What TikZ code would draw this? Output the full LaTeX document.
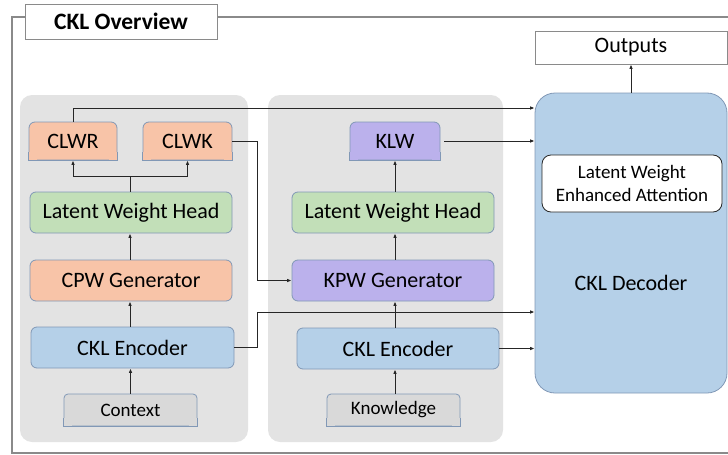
\documentclass[tikz,border=0pt]{standalone}
\usepackage{fontspec}
\setmainfont{Carlito}
\usetikzlibrary{arrows.meta}

\definecolor{panelgray}{HTML}{E3E3E3}
\definecolor{salmon}{HTML}{F8C4A8}
\definecolor{mint}{HTML}{C2DFB8}
\definecolor{lilac}{HTML}{BBB1EC}
\definecolor{skyblue}{HTML}{B5D0E8}
\definecolor{inputgray}{HTML}{D9D9D9}
\definecolor{edgeblue}{HTML}{8198B6}
\definecolor{framegray}{HTML}{8A8A8A}
\definecolor{linedark}{HTML}{262626}

\tikzset{
  blk/.style={draw=edgeblue, line width=0.8pt, rounded corners=6pt,
    inner sep=0pt, align=center, font=\fontsize{22}{24}\selectfont},
  inbox/.style={blk, fill=inputgray, rounded corners=4pt, font=\fontsize{19}{21}\selectfont},
  panel/.style={fill=panelgray, rounded corners=12pt, inner sep=0pt},
  plainbox/.style={draw=framegray, line width=0.8pt, fill=white, inner sep=0pt},
  arr/.style={draw=linedark, line width=1pt, -{Latex[length=4.5pt,width=3.6pt]}},
  wire/.style={draw=linedark, line width=1pt},
}

% squares off the two lower corners of a block (rounded on top only)
\newcommand{\sqbottom}[2]{%
  \fill[#2] (#1.south west) rectangle ++(8,-8);
  \fill[#2] (#1.south east) rectangle ++(-8,-8);
  \draw[edgeblue, line width=0.8pt] ([yshift=8pt]#1.south west) -- (#1.south west)
    -- (#1.south east) -- ([yshift=8pt]#1.south east);}

\begin{document}
\begin{tikzpicture}[x=1pt,y=-1pt]
\useasboundingbox (0,0) rectangle (728,455);

% outer frame and title
\draw[framegray, line width=1.1pt] (12,17) rectangle (745,453);
\node[plainbox, minimum width=192pt, minimum height=35pt,
      font=\bfseries\fontsize{23.5}{25}\selectfont] (title) at (121,21.5) {CKL Overview};

% grey panels
\node[panel, minimum width=228pt, minimum height=347pt] (panelL) at (134,268.5) {};
\node[panel, minimum width=235pt, minimum height=347pt] (panelM) at (385.5,268.5) {};

% context branch
\node[blk, fill=salmon, minimum width=88pt, minimum height=38pt] (clwr) at (73,141) {CLWR};
\node[blk, fill=salmon, minimum width=89pt, minimum height=38pt] (clwk) at (187.5,141) {CLWK};
\node[blk, fill=mint, minimum width=202pt, minimum height=41pt] (lwhL) at (131,212.5) {Latent Weight Head};
\node[blk, fill=salmon, minimum width=202pt, minimum height=41pt] (cpw) at (131,280.5) {CPW Generator};
\node[blk, fill=skyblue, minimum width=203pt, minimum height=41pt] (encL) at (132.5,347.5) {CKL Encoder};
\node[inbox, minimum width=133pt, minimum height=32pt] (ctx) at (130.5,410) {Context};
\sqbottom{clwr}{salmon}
\sqbottom{clwk}{salmon}
\sqbottom{ctx}{inputgray}

% knowledge branch
\node[blk, fill=lilac, minimum width=90pt, minimum height=38pt] (klw) at (395,141) {KLW};
\node[blk, fill=mint, minimum width=202pt, minimum height=41pt] (lwhM) at (393,212.5) {Latent Weight Head};
\node[blk, fill=lilac, minimum width=202pt, minimum height=41pt] (kpw) at (393,280.5) {KPW Generator};
\node[blk, fill=skyblue, minimum width=202pt, minimum height=41pt] (encM) at (398,348.5) {CKL Encoder};
\node[inbox, minimum width=133pt, minimum height=32pt] (know) at (393.5,410) {Knowledge};
\sqbottom{klw}{lilac}
\sqbottom{know}{inputgray}

% decoder and output
\node[blk, fill=skyblue, rounded corners=20pt, minimum width=192pt, minimum height=300pt] (dec) at (631,243) {};
\node[font=\fontsize{22}{24}\selectfont] (declabel) at (631,283) {CKL Decoder};
\node[blk, fill=white, draw=linedark, rounded corners=9pt, minimum width=180pt, minimum height=57pt,
      font=\fontsize{19}{23}\selectfont] (lwea) at (632,183.5) {Latent Weight\\Enhanced Attention};
\node[plainbox, minimum width=192pt, minimum height=33pt,
      font=\fontsize{22}{24}\selectfont] (out) at (631,47.5) {Outputs};

% entry points on the decoder's left edge
\coordinate (inR) at (dec.west |- 0,108);
\coordinate (inE) at (dec.west |- 0,312);

% context column
\draw[arr] (ctx.north) -- (ctx.north |- encL.south);
\draw[arr] (encL.north -| 130,0) -- (cpw.south -| 130,0);
\draw[arr] (cpw.north -| 130,0) -- (lwhL.south -| 130,0);
\draw[wire] (lwhL.north -| 130,0) -- (130,176) coordinate (split);
\draw[arr] (split) -| (clwr.south);
\draw[arr] (split) -| (clwk.south);
\draw[arr] (clwr.north) |- (inR);
\draw[arr] (clwk.east) -- (257,141) |- (kpw.west);
\draw[arr] (encL.east) -- (257,347.5) |- (inE);

% knowledge column
\draw[arr] (know.north -| 395,0) -- (encM.south -| 395,0);
\draw[arr] (encM.north -| 395,0) -- (kpw.south -| 395,0);
\draw[arr] (kpw.north -| 395,0) -- (lwhM.south -| 395,0);
\draw[arr] (lwhM.north -| 395,0) -- (klw.south);
\draw[arr, shorten <=4pt] (klw.east) -- (klw.east -| dec.west);
\draw[arr] (encM.east) -- (encM.east -| dec.west);

% decoder to outputs
\draw[arr] (dec.north) -- (out.south);
\end{tikzpicture}
\end{document}
